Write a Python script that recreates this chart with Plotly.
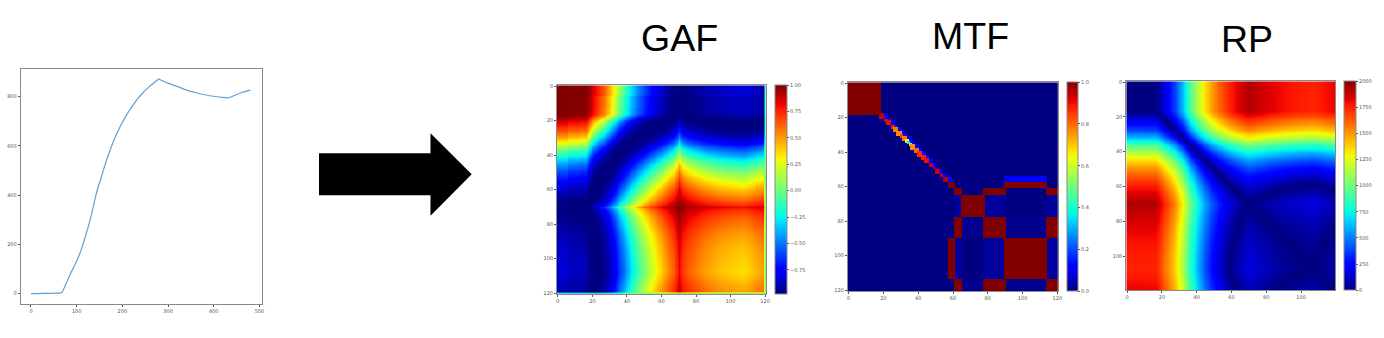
import numpy as np
import plotly.graph_objects as go

W, H = 1384, 338

# Source series at steps of 4 on the x axis
series_x_step = 4
series_values = [
    0, 0, 0, 0, 0, 0, 1, 1, 1, 1, 1, 1, 1, 2, 2, 2, 2, 6, 20, 38,
    54, 71, 87, 102, 117, 133, 150, 168, 190, 213, 238, 263, 290, 318, 350, 384, 414, 440, 461, 487,
    511, 534, 556, 577, 597, 616, 634, 651, 667, 682, 696, 709, 722, 734, 746, 757, 768, 778, 788, 797,
    806, 814, 822, 829, 836, 843, 849, 855, 861, 867, 872, 868, 865, 861, 858, 855, 852, 849, 847, 844,
    842, 839, 836, 833, 830, 828, 825, 823, 821, 819, 817, 815, 813, 811, 810, 808, 807, 805, 804, 803,
    802, 801, 800, 799, 798, 797, 796, 796, 795, 798, 801, 804, 807, 810, 813, 816, 819, 821, 823, 825, 827,
]
line_xticks = [0, 100, 200, 300, 400, 500]
line_yticks = [0, 200, 400, 600, 800]

titles = ["GAF", "MTF", "RP"]
gaf_ticks = [0, 20, 40, 60, 80, 100, 120]
rp_ticks = [0, 20, 40, 60, 80, 100]
gaf_cbar_ticks = [-0.75, -0.5, -0.25, 0, 0.25, 0.5, 0.75, 1]
mtf_cbar_ticks = [0, 0.2, 0.4, 0.6, 0.8, 1]
rp_cbar_ticks = [0, 250, 500, 750, 1000, 1250, 1500, 1750, 2000]
gaf_edge_value = 0.0      # thin green last row / column of the GAF image
rp_top = 2000             # top of the RP colour bar
rp_gain = 2.2             # RP colours against differences of the series

# MTF: flat regions (first col, last col, first row, last row, value)
mtf_regions = [
    (0, 18, 0, 18, 1.0),
    (90, 114, 54, 57, 0.11),
    (58, 61, 58, 60, 1.0), (90, 114, 58, 60, 1.0),
    (61, 65, 61, 64, 1.0), (78, 90, 61, 64, 1.0), (114, 120, 61, 64, 1.0),
    (61, 64, 65, 77, 0.025), (65, 78, 65, 77, 1.0), (79, 90, 65, 77, 0.025), (114, 120, 65, 77, 0.025),
    (61, 65, 78, 89, 1.0), (66, 77, 78, 89, 0.015), (78, 90, 78, 89, 1.0), (91, 113, 78, 89, 0.01), (114, 120, 78, 89, 1.0),
    (58, 61, 90, 113, 1.0), (62, 65, 90, 113, 0.025), (78, 89, 90, 113, 0.025), (90, 114, 90, 113, 1.0), (115, 120, 90, 113, 0.025),
    (61, 65, 114, 120, 1.0), (66, 77, 114, 120, 0.015), (78, 90, 114, 120, 1.0), (91, 113, 114, 120, 0.015), (114, 120, 114, 120, 1.0),
]
# MTF: squares along the diagonal (first index, last index, value)
mtf_diag = [
    (18, 20, 0.93), (21, 22, 0.92), (22, 24, 0.90), (25, 26, 0.88), (26, 28, 0.78), (28, 30, 0.76),
    (30, 31, 0.85), (31, 33, 0.78), (33, 34, 0.65), (34, 35, 0.35), (35, 36, 0.55), (36, 38, 0.76),
    (38, 40, 0.80), (40, 42, 0.87), (42, 44, 0.88), (44, 46, 0.90), (47, 48, 0.93), (49, 49, 0.93),
    (50, 52, 0.93), (53, 54, 0.93), (55, 57, 0.95),
]
mtf_diag_upper = 0.11      # bright blue step just above the diagonal

jet = [
    [0.0, "rgb(0,0,128)"], [0.11, "rgb(0,0,255)"], [0.125, "rgb(0,0,255)"], [0.34, "rgb(0,219,255)"],
    [0.35, "rgb(0,230,247)"], [0.375, "rgb(0,255,226)"], [0.64, "rgb(239,255,8)"], [0.65, "rgb(247,245,0)"],
    [0.66, "rgb(255,236,0)"], [0.89, "rgb(255,19,0)"], [0.91, "rgb(232,0,0)"], [1.0, "rgb(128,0,0)"],
]

s = np.array(series_values, dtype=float)
s120 = s[:120]

# Gramian angular summation field of the series
norm = 2 * (s120 - s120.min()) / (s120.max() - s120.min()) - 1
phi = np.arccos(np.clip(norm, -1, 1))
gaf = np.full((121, 121), gaf_edge_value)
gaf[:120, :120] = np.cos(phi[:, None] + phi[None, :])

# Recurrence plot: pairwise distance of the series
rp = np.abs(s120[:, None] - s120[None, :]) * rp_gain

# Markov transition field from the regions
mtf = np.zeros((121, 121))
for a, b, v in mtf_diag:
    mtf[a:b + 1, b + 1:b + 3] = mtf_diag_upper
for a, b, v in mtf_diag:
    mtf[a:b + 1, a:b + 1] = v
for x0, x1, y0, y1, v in mtf_regions:
    mtf[y0:y1 + 1, x0:x1 + 1] = v


def fx(px):
    return px / W


def fy(py):
    return 1 - py / H


TICK = dict(family="DejaVu Sans", size=5, color="#555555")
FRAME = "#8a8a8a"


def axis_common():
    return dict(showgrid=False, zeroline=False, showline=True, mirror=True, linecolor=FRAME, linewidth=1,
                ticks="outside", ticklen=2, tickwidth=0.6, tickcolor="#555555", tickfont=TICK)


fig = go.Figure()
fig.add_trace(go.Scatter(x=np.arange(len(s)) * series_x_step, y=s, mode="lines",
                         line=dict(color="#5f9fd2", width=1.2, simplify=False), xaxis="x", yaxis="y", showlegend=False))


def add_map(z, idx, box, cb, zmin, zmax, cticks, ctext):
    x0, x1, y0, y1 = box
    n = z.shape[0]
    fig.add_trace(go.Heatmap(
        z=z, x=np.arange(n), y=np.arange(n), xaxis=f"x{idx}", yaxis=f"y{idx}",
        colorscale=jet, zmin=zmin, zmax=zmax, zsmooth=False if idx == 3 else "best",
        colorbar=dict(x=fx(cb[0]), xanchor="left", xpad=0, ypad=0, y=fy((y0 + y1) / 2), yanchor="middle",
                      len=(y1 - y0) / H, lenmode="fraction", thickness=cb[1] - cb[0], thicknessmode="pixels",
                      tickvals=cticks, ticktext=ctext, ticks="outside", ticklen=2, tickwidth=0.6,
                      tickcolor="#555555", tickfont=TICK, outlinewidth=1, outlinecolor=FRAME),
    ))


add_map(gaf, 2, (557, 766, 85.3, 294), (775, 786.7), -0.98, 1, gaf_cbar_ticks,
        [f"{v:.2f}".replace("-", "\u2212") for v in gaf_cbar_ticks])
add_map(mtf, 3, (847.8, 1058.2, 82.3, 291), (1066.7, 1078), 0, 1, mtf_cbar_ticks,
        [f"{v:.1f}" for v in mtf_cbar_ticks])
add_map(rp, 4, (1126.3, 1335, 81.3, 290), (1344, 1355.7), 0, rp_top, rp_cbar_ticks,
        [str(v) for v in rp_cbar_ticks])

layout = dict(
    width=W, height=H, autosize=False, margin=dict(l=0, r=0, t=0, b=0, autoexpand=False),
    paper_bgcolor="white", plot_bgcolor="white", showlegend=False,
    xaxis=dict(domain=[fx(20.7), fx(261.7)], range=[-22.5, 505], tickvals=line_xticks, anchor="y", **axis_common()),
    yaxis=dict(domain=[fy(304.3), fy(68.9)], range=[-43, 913], tickvals=line_yticks, anchor="x", **axis_common()),
)
boxes = {2: (557, 766, 85.3, 294, 120.5, gaf_ticks), 3: (847.8, 1058.2, 82.3, 291, 120.5, gaf_ticks),
         4: (1126.3, 1335, 81.3, 290, 119.5, rp_ticks)}
for i, (x0, x1, y0, y1, top, ticks) in boxes.items():
    layout[f"xaxis{i}"] = dict(domain=[fx(x0), fx(x1)], range=[-0.5, top], tickvals=ticks, anchor=f"y{i}", **axis_common())
    layout[f"yaxis{i}"] = dict(domain=[fy(y1), fy(y0)], range=[top, -0.5], tickvals=ticks, anchor=f"x{i}", **axis_common())
fig.update_layout(**layout)

# Arrow between the line panel and the maps
arrow = [(319, 153.3), (430.5, 153.3), (430.5, 133.3), (471.7, 174.3), (430.5, 215.7), (430.5, 195.3), (319, 195.3)]
path = "M " + " L ".join(f"{fx(a):.5f},{fy(b):.5f}" for a, b in arrow) + " Z"
fig.add_shape(type="path", xref="paper", yref="paper", path=path, fillcolor="black", line=dict(width=0))

title_pos = [(679, 38.3), (970.5, 36.3), (1247, 39.3)]
for t, (a, b) in zip(titles, title_pos):
    fig.add_annotation(text=t, xref="paper", yref="paper", x=fx(a), y=fy(b), xanchor="center", yanchor="middle",
                       showarrow=False, font=dict(family="Liberation Sans", size=37.5, color="black"))

fig.write_html("out.html", config={"displayModeBar": False},
               post_script="document.body.style.margin='0';document.documentElement.style.overflow='hidden';")
